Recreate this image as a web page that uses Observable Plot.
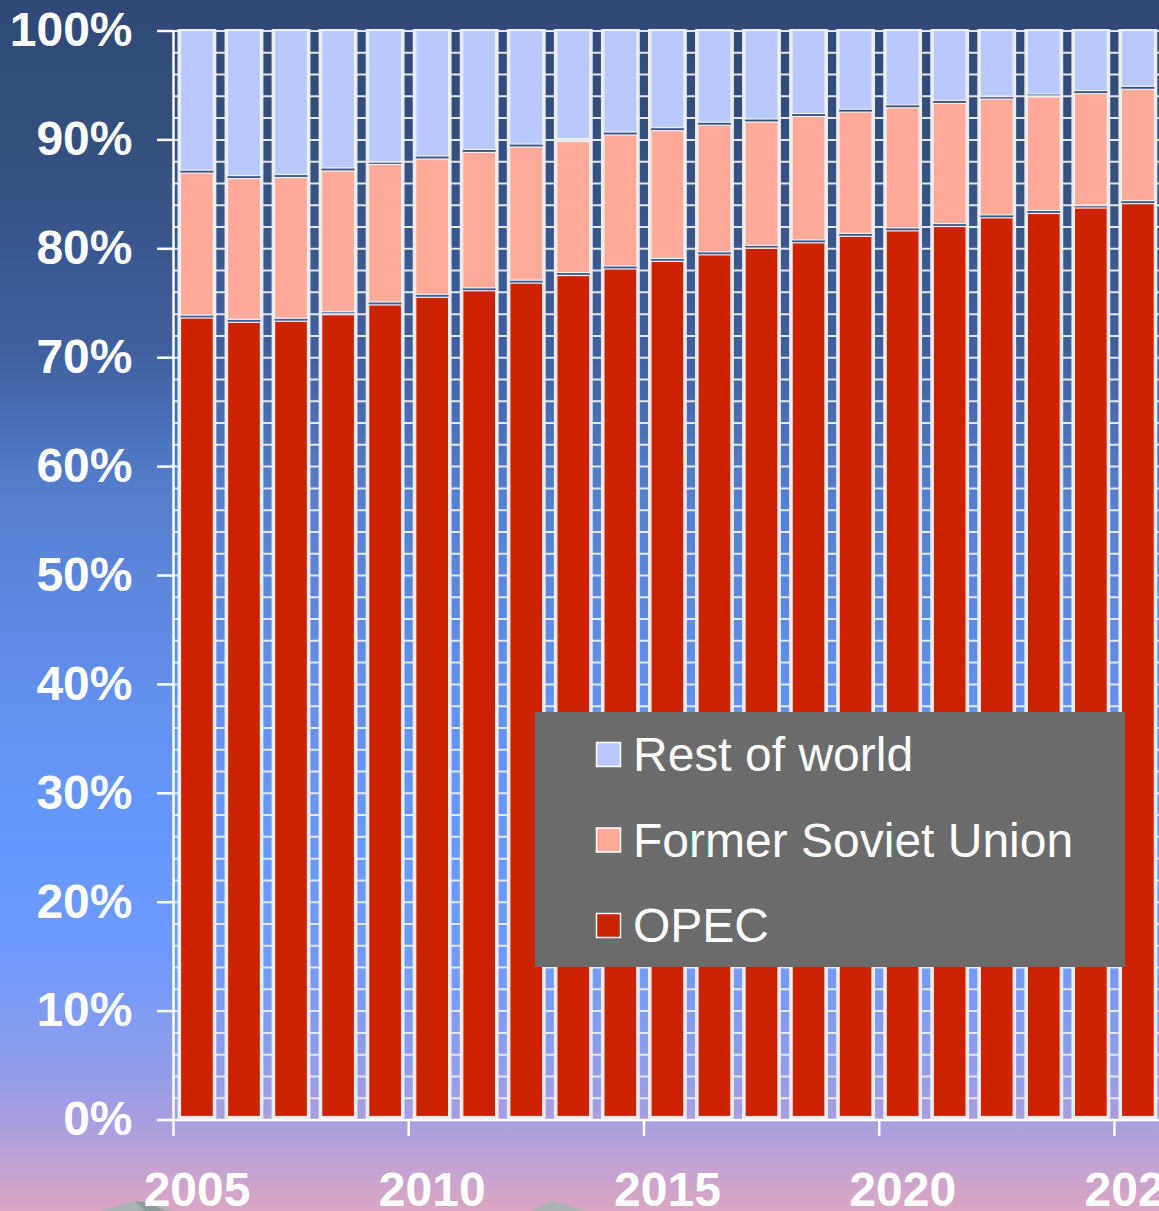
<!DOCTYPE html>
<html>
<head>
<meta charset="utf-8">
<script src="https://cdn.jsdelivr.net/npm/d3@7"></script>
<script src="https://cdn.jsdelivr.net/npm/@observablehq/plot@0.6"></script>
<style>
  html, body { margin: 0; padding: 0; overflow: hidden; background: #2f4877; }
  #wrap {
    position: relative; width: 1159px; height: 1211px; overflow: hidden;
    background: linear-gradient(to bottom,
      #2f4877 0px, #34507f 150px, #3f5f9f 350px, #5580d0 500px, #6290ee 700px,
      #6699ff 850px, #6e9aff 950px, #7b9bf4 1000px, #959de9 1080px,
      #b09fdc 1135px, #c8a3d0 1175px, #dba6c3 1211px);
    font-family: "Liberation Sans", Arial, sans-serif;
  }
  #deco, #chart, #legend { position: absolute; left: 0; top: 0; }
  #legend { left: 535px; top: 712px; }
</style>
</head>
<body>
<div id="wrap">
  <svg id="deco" width="1159" height="1211">
    <polygon points="100,1211 135,1201 150,1203 175,1211" fill="#a9b3b4"/>
    <polygon points="135,1201 150,1203 165,1211 145,1211" fill="#8f9c9e"/>
    <polygon points="530,1211 552,1201 560,1203 585,1211" fill="#a9b3b4"/>
  </svg>
  <div id="chart"></div>
  <svg id="legend" width="590" height="255"></svg>
</div>
<script>
// Share of world oil reserves/production by region, percent of total
const years = [2005, 2006, 2007, 2008, 2009, 2010, 2011, 2012, 2013, 2014, 2015,
               2016, 2017, 2018, 2019, 2020, 2021, 2022, 2023, 2024, 2025];
const opec = [73.6, 73.2, 73.3, 73.9, 74.8, 75.5, 76.1, 76.8, 77.5, 78.1, 78.8,
              79.4, 80.0, 80.5, 81.1, 81.6, 82.0, 82.8, 83.2, 83.7, 84.1];
const fsu  = [13.3, 13.2, 13.2, 13.2, 12.9, 12.7, 12.7, 12.5, 12.3, 12.3, 12.0,
              11.9, 11.6, 11.6, 11.4, 11.3, 11.3, 10.9, 10.7, 10.5, 10.5];
const rest = [13.1, 13.6, 13.5, 12.9, 12.3, 11.8, 11.2, 10.7, 10.2, 9.6, 9.2,
              8.7, 8.4, 7.9, 7.5, 7.1, 6.7, 6.3, 6.1, 5.8, 5.4];

const seriesNames  = ["OPEC", "Former Soviet Union", "Rest of world"];
const seriesColors = ["#cc2200", "#ffaa99", "#b9c9ff"];

const yTicks = [0, 10, 20, 30, 40, 50, 60, 70, 80, 90, 100];
const xTicks = [2005, 2010, 2015, 2020, 2025];
const gridSteps = d3.range(2, 101, 2);

// Stack the three shares for each year, bottom to top
const rows = [];
years.forEach((yr, i) => {
  let base = 0;
  [opec[i], fsu[i], rest[i]].forEach((v, j) => {
    rows.push({year: yr, series: seriesNames[j], y1: base, y2: base + v});
    base += v;
  });
});

const chart = Plot.plot({
  width: 1159,
  height: 1211,
  marginLeft: 173,
  marginRight: 0,
  marginTop: 30,
  marginBottom: 91,
  x: {type: "linear", domain: [2005, 2026], range: [173, 1161]},
  y: {domain: [0, 100], range: [1119.5, 30.5]},
  color: {domain: seriesNames, range: seriesColors},
  style: {background: "transparent", overflow: "hidden",
          fontFamily: "'Liberation Sans', Arial, sans-serif"},
  marks: [
    Plot.ruleY(gridSteps, {stroke: "#e6e6ee", strokeWidth: 2}),
    // light frame around each column
    Plot.rect(years, {x1: d => d, x2: d => d + 1, y1: 0, y2: 100,
      insetLeft: 6, insetRight: 5.2, insetBottom: 1.5,
      fill: "none", stroke: "#ececec", strokeWidth: 3}),
    Plot.rect(rows, {x1: "year", x2: d => d.year + 1, y1: "y1", y2: "y2",
      fill: "series", stroke: "#f0f0f0", strokeWidth: 1.2,
      insetLeft: 7.5, insetRight: 6.7, insetBottom: 3}),
    Plot.ruleX([2005], {stroke: "white", strokeWidth: 2.5}),
    Plot.ruleY([0], {stroke: "white", strokeWidth: 2.5}),
    Plot.axisY({ticks: yTicks, tickFormat: d => d + "%", tickSize: 16, tickPadding: 25,
      stroke: "white", strokeWidth: 2.5, fill: "white",
      fontSize: 48, fontWeight: "bold", label: null}),
    Plot.axisX({ticks: xTicks, tickSize: 16, tickFormat: () => "",
      stroke: "white", strokeWidth: 2.5, label: null}),
    Plot.text(xTicks, {x: d => d + 0.5, frameAnchor: "bottom", lineAnchor: "top", dy: 51,
      text: d => String(d), fill: "white", fontSize: 48, fontWeight: "bold"})
  ]
});
document.getElementById("chart").appendChild(chart);

// Legend box, top entry is the top of the stack
const legend = d3.select("#legend");
legend.append("rect").attr("width", 590).attr("height", 255).attr("fill", "#6b6b6b");
const legendItems = seriesNames.map((name, i) => ({name, color: seriesColors[i]})).reverse();
const item = legend.selectAll("g.item").data(legendItems).join("g")
  .attr("class", "item")
  .attr("transform", (d, i) => `translate(0, ${i * 85.5})`);
item.append("rect")
  .attr("x", 61.5).attr("y", 30.5).attr("width", 24).attr("height", 24)
  .attr("fill", d => d.color).attr("stroke", "white").attr("stroke-width", 1.5);
item.append("text")
  .attr("x", 98).attr("y", 59)
  .attr("fill", "white")
  .attr("font-size", 48)
  .attr("font-family", "'Liberation Sans', Arial, sans-serif")
  .text(d => d.name);
</script>
</body>
</html>
